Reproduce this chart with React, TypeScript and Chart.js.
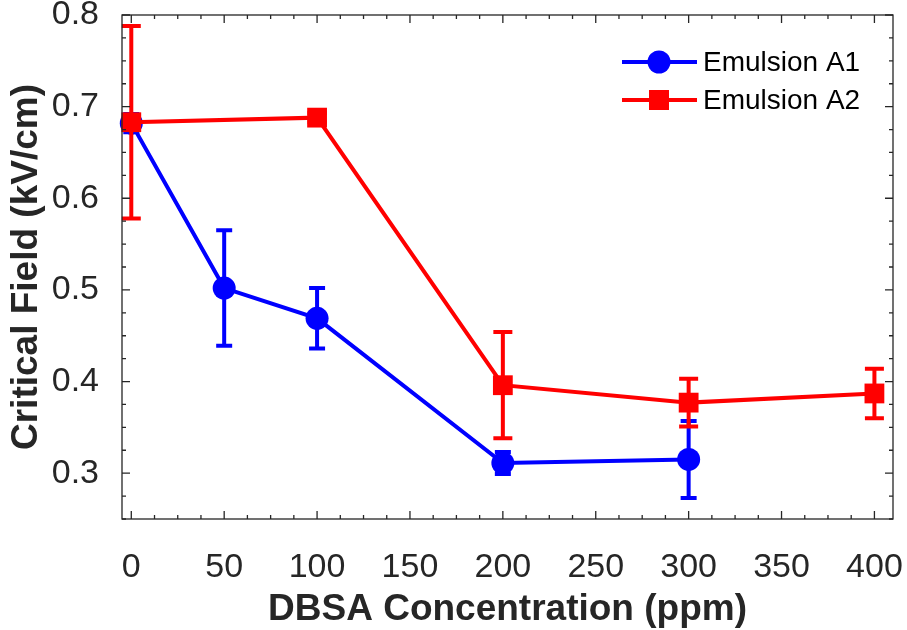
import React, { useEffect, useRef } from "react";
import { Chart, registerables } from "chart.js";

Chart.register(...registerables);

// ---- data ----
const xTickValues = [0, 50, 100, 150, 200, 250, 300, 350, 400];
const yTickValues = [0.3, 0.4, 0.5, 0.6, 0.7, 0.8];

const a1Conc = [0, 50, 100, 200, 300];
const a1Field = [0.682, 0.502, 0.469, 0.311, 0.315];
const a1Err = [0.01, 0.063, 0.033, 0.012, 0.042];

const a2Conc = [0, 100, 200, 300, 400];
const a2Field = [0.683, 0.688, 0.396, 0.377, 0.387];
const a2Err = [0.105, 0.005, 0.058, 0.026, 0.027];

const seriesNames = ["Emulsion A1", "Emulsion A2"];

const FONT = "'Liberation Sans', Arial, Helvetica, sans-serif";
const AXIS_COLOR = "#262626";
const LW = 4;

const errorBarPlugin = {
  id: "errorBars",
  beforeDatasetDraw(chart: any, args: any) {
    const ds = chart.data.datasets[args.index];
    if (!ds.errors) return;
    const ctx = chart.ctx;
    const xs = chart.scales.x;
    const ys = chart.scales.y;
    ctx.save();
    ctx.strokeStyle = ds.borderColor;
    ctx.lineWidth = LW;
    ctx.lineCap = "butt";
    const half = ds.capWidth / 2;
    ds.data.forEach((pt: any, i: number) => {
      const e = ds.errors[i];
      const px = xs.getPixelForValue(pt.x);
      const yt = ys.getPixelForValue(pt.y + e);
      const yb = ys.getPixelForValue(pt.y - e);
      ctx.beginPath();
      ctx.moveTo(px, yt);
      ctx.lineTo(px, yb);
      ctx.moveTo(px - half, yt);
      ctx.lineTo(px + half, yt);
      ctx.moveTo(px - half, yb);
      ctx.lineTo(px + half, yb);
      ctx.stroke();
    });
    ctx.restore();
  },
};

const boxPlugin = {
  id: "matlabBox",
  afterDraw(chart: any) {
    const ctx = chart.ctx;
    const { left, right, top, bottom } = chart.chartArea;
    const xs = chart.scales.x;
    const ys = chart.scales.y;
    ctx.save();
    ctx.strokeStyle = AXIS_COLOR;
    ctx.lineWidth = 1.3;
    ctx.strokeRect(left, top, right - left, bottom - top);
    ctx.beginPath();
    for (let v = 0; v <= 410; v += 12.5) {
      const px = xs.getPixelForValue(v);
      const len = v % 50 === 0 ? 8 : 4;
      ctx.moveTo(px, bottom);
      ctx.lineTo(px, bottom - len);
      ctx.moveTo(px, top);
      ctx.lineTo(px, top + len);
    }
    for (let k = 0; k <= 22; k++) {
      const v = 0.25 + k * 0.025;
      const py = ys.getPixelForValue(v);
      const len = k % 4 === 2 ? 8 : 4;
      ctx.moveTo(left, py);
      ctx.lineTo(left + len, py);
      ctx.moveTo(right, py);
      ctx.lineTo(right - len, py);
    }
    ctx.stroke();
    ctx.restore();

    // legend
    const rows = [
      { y: 62, color: "#0000ff", shape: "circle", label: seriesNames[0] },
      { y: 100, color: "#ff0000", shape: "square", label: seriesNames[1] },
    ];
    ctx.save();
    rows.forEach((r) => {
      ctx.strokeStyle = r.color;
      ctx.fillStyle = r.color;
      ctx.lineWidth = LW;
      ctx.beginPath();
      ctx.moveTo(622, r.y);
      ctx.lineTo(697, r.y);
      ctx.stroke();
      ctx.beginPath();
      if (r.shape === "circle") {
        ctx.arc(659, r.y, 11.5, 0, Math.PI * 2);
      } else {
        ctx.rect(659 - 10, r.y - 10, 20, 20);
      }
      ctx.fill();
      ctx.fillStyle = "#000000";
      ctx.font = `28px ${FONT}`;
      ctx.textBaseline = "middle";
      ctx.textAlign = "left";
      ctx.fillText(r.label, 703, r.y + 1);
    });
    ctx.restore();
  },
};

const noPad = (s: any) => {
  s.paddingTop = 0;
  s.paddingBottom = 0;
  s.paddingLeft = 0;
  s.paddingRight = 0;
};

export default function App() {
  const ref = useRef<HTMLCanvasElement | null>(null);

  useEffect(() => {
    if (!ref.current) return;
    const chart = new Chart(ref.current, {
      type: "line",
      data: {
        datasets: [
          {
            label: seriesNames[0],
            data: a1Conc.map((x, i) => ({ x, y: a1Field[i] })),
            errors: a1Err,
            capWidth: 16,
            borderColor: "#0000ff",
            backgroundColor: "#0000ff",
            borderWidth: LW,
            pointStyle: "circle",
            pointRadius: 11.5,
            pointBorderWidth: 0,
            pointBackgroundColor: "#0000ff",
            tension: 0,
            clip: false,
            order: 1,
          } as any,
          {
            label: seriesNames[1],
            data: a2Conc.map((x, i) => ({ x, y: a2Field[i] })),
            errors: a2Err,
            capWidth: 19,
            borderColor: "#ff0000",
            backgroundColor: "#ff0000",
            borderWidth: LW,
            pointStyle: "rect",
            pointRadius: 14,
            pointBorderWidth: 0,
            pointBackgroundColor: "#ff0000",
            tension: 0,
            clip: false,
            order: 0,
          } as any,
        ],
      },
      options: {
        responsive: false,
        animation: false,
        events: [],
        layout: { padding: { top: 15, right: 14, left: 0, bottom: 0 } },
        plugins: {
          legend: { display: false },
          tooltip: { enabled: false },
        },
        scales: {
          x: {
            type: "linear",
            min: -5,
            max: 410,
            afterBuildTicks: (s: any) => {
              s.ticks = xTickValues.map((v) => ({ value: v }));
            },
            afterFit: (s: any) => {
              s.height = 111;
              noPad(s);
            },
            grid: { display: false },
            border: { display: false },
            ticks: {
              font: { family: FONT, size: 34 },
              color: AXIS_COLOR,
              padding: 20,
              maxRotation: 0,
              autoSkip: false,
              callback: (v: any) => String(v),
            },
            title: {
              display: true,
              text: "DBSA Concentration (ppm)",
              font: { family: FONT, size: 37, weight: "bold", lineHeight: 1.1 },
              color: AXIS_COLOR,
              padding: { top: 0, bottom: 0 },
            },
          },
          y: {
            type: "linear",
            min: 0.25,
            max: 0.8,
            afterBuildTicks: (s: any) => {
              s.ticks = yTickValues.map((v) => ({ value: v }));
            },
            afterFit: (s: any) => {
              s.width = 122;
              noPad(s);
            },
            grid: { display: false },
            border: { display: false },
            ticks: {
              font: { family: FONT, size: 34 },
              color: AXIS_COLOR,
              padding: 15,
              autoSkip: false,
              callback: (v: any) => Number(v).toFixed(1),
            },
            title: {
              display: true,
              text: "Critical Field (kV/cm)",
              font: { family: FONT, size: 37, weight: "bold", lineHeight: 1.2 },
              color: AXIS_COLOR,
              padding: { top: 5, bottom: 0 },
            },
          },
        },
      } as any,
      plugins: [errorBarPlugin, boxPlugin],
    });
    return () => chart.destroy();
  }, []);

  return (
    <div style={{ position: "fixed", left: 0, top: 0, width: 907, height: 630, background: "#ffffff" }}>
      <canvas ref={ref} width={907} height={630} />
    </div>
  );
}
